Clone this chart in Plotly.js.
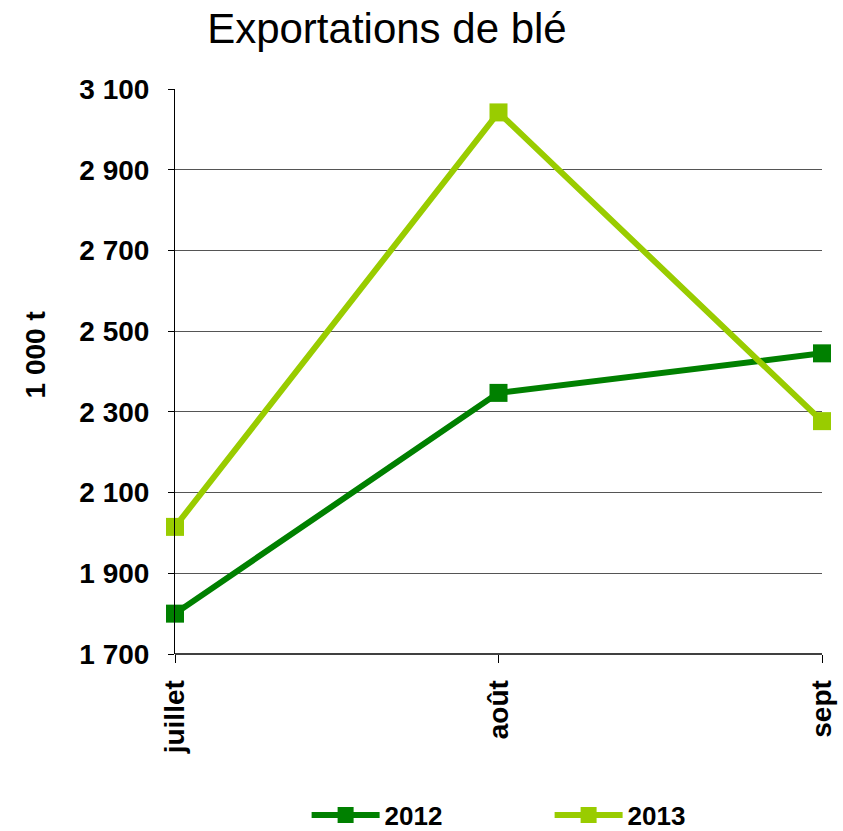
<!DOCTYPE html>
<html>
<head>
<meta charset="utf-8">
<script src="https://cdn.plot.ly/plotly-3.0.1.min.js"></script>
<style>html,body{margin:0;padding:0;background:#fff;}#chart{width:843px;height:831px;}</style>
</head>
<body>
<div id="chart"></div>
<script>
var months = ["juillet", "août", "sept"];
var exports2012 = [1800, 2347, 2445];
var exports2013 = [2015, 3042, 2277];
var yTickVals = [1700, 1900, 2100, 2300, 2500, 2700, 2900, 3100];
var yTickText = ["1 700", "1 900", "2 100", "2 300", "2 500", "2 700", "2 900", "3 100"];
var yAxisLabel = "1 000 t";

var traces = [
  {x: months, y: exports2012, name: "2012", type: "scatter", mode: "lines+markers",
   line: {color: "#008000", width: 6}, marker: {symbol: "square", size: 18, color: "#008000"}, cliponaxis: false},
  {x: months, y: exports2013, name: "2013", type: "scatter", mode: "lines+markers",
   line: {color: "#99CC00", width: 6}, marker: {symbol: "square", size: 18, color: "#99CC00"}, cliponaxis: false}
];

var layout = {
  width: 843, height: 831,
  margin: {l: 175, r: 21, t: 89, b: 177, autoexpand: false},
  paper_bgcolor: "#ffffff", plot_bgcolor: "#ffffff",
  font: {family: "Liberation Sans, Arial, sans-serif", color: "#000"},
  title: {text: "Exportations de blé", font: {size: 42, color: "#000"},
          x: 0.459, xref: "container", xanchor: "center", y: 0.984, yref: "container", yanchor: "top"},
  xaxis: {type: "category", range: [0, 2], showgrid: false, zeroline: false, automargin: false,
          showline: false, ticks: "outside", ticklen: 8, tickcolor: "#000", tickwidth: 1,
          tickangle: -90, tickfont: {size: 28, weight: "bold"}, ticklabelstandoff: 6},
  yaxis: {range: [1700, 3100], tickvals: yTickVals, ticktext: yTickText, automargin: false,
          showgrid: true, gridcolor: "#555", gridwidth: 1, zeroline: false,
          showline: true, linecolor: "#000", linewidth: 1, ticks: "outside", ticklen: 6, tickcolor: "#000",
          tickfont: {size: 28, weight: "bold"}, ticklabelstandoff: 13},
  annotations: [{text: yAxisLabel, xref: "paper", yref: "paper", x: -0.215, y: 0.53,
                 xanchor: "center", yanchor: "middle", textangle: -90, showarrow: false,
                 font: {size: 28, weight: "bold", color: "#000"}}],
  shapes: [{type: "line", xref: "paper", yref: "paper", x0: 0, x1: 1, y0: 0, y1: 0, line: {color: "#000", width: 1.5}}],
  showlegend: true,
  legend: {orientation: "h", x: 0.579, xanchor: "center", y: 0.019, yref: "container", yanchor: "middle",
           font: {size: 26, weight: "bold"}, itemwidth: 68, entrywidth: 160, traceorder: "normal"}
};

Plotly.newPlot("chart", traces, layout, {displayModeBar: false, staticPlot: true});
</script>
</body>
</html>
